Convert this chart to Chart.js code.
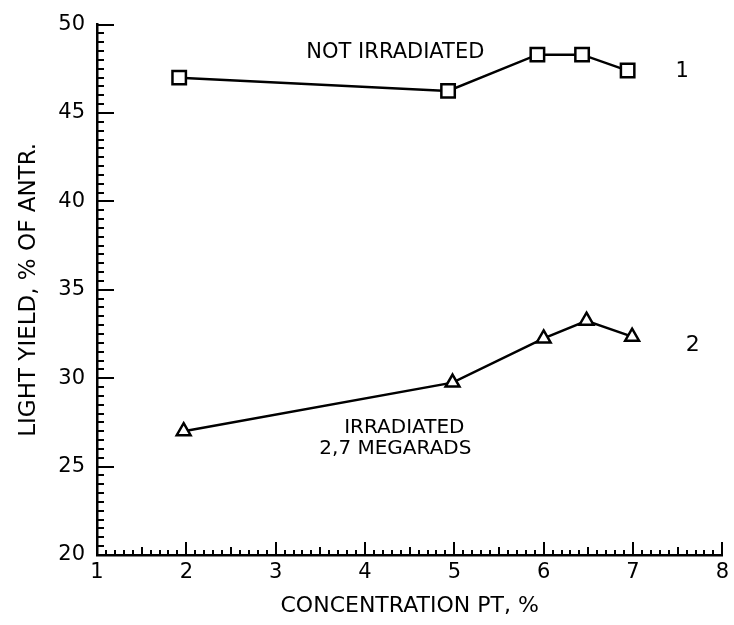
<!DOCTYPE html>
<html>
<head>
<meta charset="utf-8">
<script src="https://cdn.jsdelivr.net/npm/chart.js@4/dist/chart.umd.min.js"></script>
<style>
  html, body { margin: 0; padding: 0; background: #fff; }
  #wrap { width: 734px; height: 625px; }
</style>
</head>
<body>
<div id="wrap"><canvas id="yield-chart"></canvas></div>
<script>
// concentration (x) and light yield (y)
const concNotIrr = [1.92, 4.93, 5.93, 6.43, 6.94]
const yieldNotIrr = [47.0, 46.25, 48.3, 48.3, 47.4]
const concIrr = [1.97, 4.98, 6.0, 6.48, 6.99]
const yieldIrr = [27.0, 29.75, 32.25, 33.25, 32.35]

const xTicks = [1, 2, 3, 4, 5, 6, 7, 8]
const yTicks = [20, 25, 30, 35, 40, 45, 50]

// text notes placed in data units
const notes = [
  { text: 'NOT IRRADIATED', x: 4.34, y: 48.43, size: 21 },
  { text: '1', x: 7.55, y: 47.36, size: 21 },
  { text: '2', x: 7.67, y: 31.86, size: 22 },
  { text: 'IRRADIATED', x: 4.44, y: 27.2, size: 20 },
  { text: '2,7 MEGARADS', x: 4.34, y: 26.0, size: 20 }
]

const FONT = "'DejaVu Sans', sans-serif"

const toPoints = (xs, ys) => xs.map((x, i) => ({ x: x, y: ys[i] }))

// inward tick marks drawn from the chart's own scales
const tickMarks = {
  id: 'tickMarks',
  afterDatasetsDraw(chart) {
    const { ctx, scales } = chart
    const xs = scales.x
    const ys = scales.y
    const bottom = ys.getPixelForValue(20)
    const left = xs.getPixelForValue(1)
    ctx.save()
    ctx.strokeStyle = '#000'
    ctx.lineWidth = 2
    ctx.beginPath()
    for (let i = 0; i <= 70; i++) {
      const v = 1 + i / 10
      const px = Math.round(xs.getPixelForValue(v))
      let len = 5
      if (i % 10 === 0) len = 13
      else if (i % 5 === 0) len = 8
      ctx.moveTo(px, bottom)
      ctx.lineTo(px, bottom - len)
    }
    for (let i = 0; i <= 60; i++) {
      const v = 20 + i / 2
      const py = Math.round(ys.getPixelForValue(v))
      const len = i % 10 === 0 ? 17 : 7
      ctx.moveTo(left, py)
      ctx.lineTo(left + len, py)
    }
    ctx.stroke()
    ctx.restore()
  }
}

const textNotes = {
  id: 'textNotes',
  afterDraw(chart) {
    const { ctx, scales } = chart
    ctx.save()
    ctx.fillStyle = '#000'
    ctx.textAlign = 'center'
    ctx.textBaseline = 'middle'
    notes.forEach(n => {
      ctx.font = n.size + 'px ' + FONT
      ctx.fillText(n.text, scales.x.getPixelForValue(n.x), scales.y.getPixelForValue(n.y))
    })
    ctx.restore()
  }
}

const ctx = document.getElementById('yield-chart').getContext('2d')
new Chart(ctx, {
  type: 'scatter',
  data: {
    datasets: [
      {
        label: 'not irradiated',
        data: toPoints(concNotIrr, yieldNotIrr),
        showLine: true,
        borderColor: '#000',
        borderWidth: 2.5,
        pointStyle: 'rect',
        pointRadius: 9.5,
        pointBorderWidth: 2.5,
        pointBorderColor: '#000',
        pointBackgroundColor: '#fff'
      },
      {
        label: 'irradiated',
        data: toPoints(concIrr, yieldIrr),
        showLine: true,
        borderColor: '#000',
        borderWidth: 2.5,
        pointStyle: 'triangle',
        pointRadius: 8,
        pointBorderWidth: 2.5,
        pointBorderColor: '#000',
        pointBackgroundColor: '#fff'
      }
    ]
  },
  options: {
    responsive: true,
    maintainAspectRatio: false,
    animation: false,
    layout: {
      autoPadding: false,
      padding: { top: 19, right: 11, bottom: 0, left: 0 }
    },
    plugins: {
      legend: { display: false },
      tooltip: { enabled: false }
    },
    scales: {
      x: {
        type: 'linear',
        min: 1,
        max: 8,
        afterFit: s => { s.height = 70 },
        afterBuildTicks: s => { s.ticks = xTicks.map(v => ({ value: v })) },
        grid: { display: false, drawTicks: false },
        border: { display: true, color: '#000', width: 2.5 },
        ticks: { color: '#000', padding: 5, font: { family: FONT, size: 21 }, maxRotation: 0 },
        title: {
          display: true,
          text: 'CONCENTRATION PT, %',
          color: '#000',
          font: { family: FONT, size: 22 },
          padding: { top: 0, bottom: 6 }
        }
      },
      y: {
        type: 'linear',
        min: 20,
        max: 50,
        afterFit: s => { s.width = 97 },
        afterBuildTicks: s => { s.ticks = yTicks.map(v => ({ value: v })) },
        grid: { display: false, drawTicks: false },
        border: { display: true, color: '#000', width: 2.5 },
        ticks: { color: '#000', padding: 12, font: { family: FONT, size: 21 } },
        title: {
          display: true,
          text: 'LIGHT YIELD, % OF ANTR.',
          color: '#000',
          font: { family: FONT, size: 23 },
          padding: { top: 15, bottom: 0 }
        }
      }
    }
  },
  plugins: [tickMarks, textNotes]
})
</script>
</body>
</html>
